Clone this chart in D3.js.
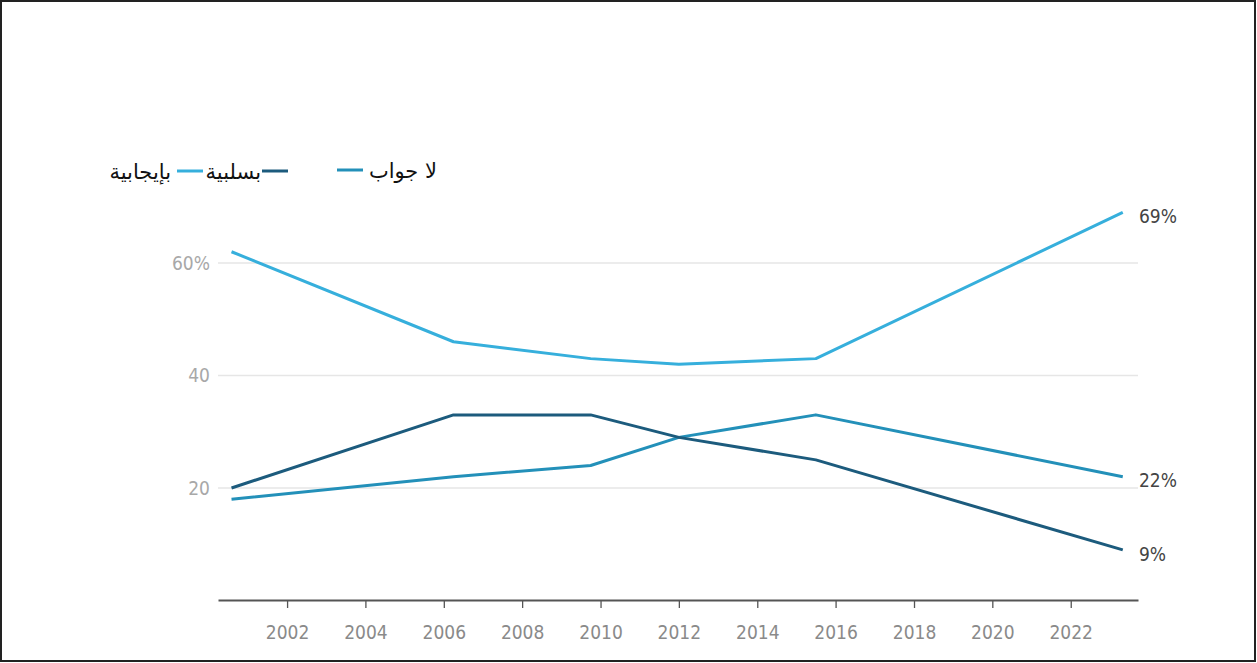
<!DOCTYPE html>
<html>
<head>
<meta charset="utf-8">
<script src="https://cdn.jsdelivr.net/npm/d3@7"></script>
<style>
  body { margin: 0; background: #fff; }
  svg { display: block; }
</style>
</head>
<body>
<div id="chart"></div>
<script>
// survey dates (year-month)
var dates = ["2000-08", "2006-04", "2009-10", "2012-01", "2015-07", "2023-05"];
var positive = [62, 46, 43, 42, 43, 69];   // بإيجابية
var negative = [20, 33, 33, 29, 25, 9];    // بسلبية
var noAnswer = [18, 22, 24, 29, 33, 22];   // لا جواب
var yTicks = [20, 40, 60];
var seriesNames = ["بإيجابية", "بسلبية", "لا جواب"];
var seriesColors = ["#36afdc", "#1c5b7d", "#2390b9"];

var parse = d3.timeParse("%Y-%m");
var W = 1257, H = 663;
var labelFont = "'Liberation Sans Narrow', 'DejaVu Sans Condensed', sans-serif";

var svg = d3.select("#chart")
  .append("svg")
  .attr("width", W)
  .attr("height", H);

// frame
svg.append("rect")
  .attr("x", 1).attr("y", 1)
  .attr("width", W - 3).attr("height", H - 3)
  .style("fill", "none")
  .style("stroke", "#222")
  .style("stroke-width", 2);

var x = d3.scaleTime()
  .domain([new Date(2000, 2, 28), new Date(2023, 8, 20)])
  .range([218, 1138]);

var y = d3.scaleLinear()
  .domain([0, 20])
  .range([600.5, 488]);

// grid
svg.append("g")
  .selectAll("line")
  .data(yTicks)
  .enter().append("line")
  .attr("x1", 218).attr("x2", 1138)
  .attr("y1", function(d) { return y(d); })
  .attr("y2", function(d) { return y(d); })
  .style("stroke", "#e6e6e6")
  .style("stroke-width", 1.5);

svg.append("g")
  .selectAll("text")
  .data(yTicks)
  .enter().append("text")
  .attr("x", 210)
  .attr("y", function(d) { return y(d); })
  .attr("dy", ".35em")
  .style("text-anchor", "end")
  .style("font-family", labelFont)
  .style("font-size", "19px")
  .style("fill", "#a8a8a8")
  .text(function(d, i) { return i == yTicks.length - 1 ? d + "%" : d; });

// x axis
var xAxis = svg.append("g")
  .attr("transform", "translate(0,600)")
  .call(d3.axisBottom(x)
    .ticks(d3.timeYear.every(2))
    .tickFormat(d3.timeFormat("%Y"))
    .tickSize(8)
    .tickSizeOuter(0));
xAxis.select(".domain").style("stroke", "#555").style("stroke-width", 2);
xAxis.selectAll(".tick line").style("stroke", "#555").style("stroke-width", 1.3);
xAxis.selectAll(".tick text")
  .attr("y", 26)
  .style("font-family", labelFont)
  .style("font-size", "19px")
  .style("fill", "#8a8a8a");

var line = d3.line()
  .x(function(d) { return x(d.date); })
  .y(function(d) { return y(d.value); });

var series = [positive, negative, noAnswer].map(function(vals, k) {
  return {
    name: seriesNames[k],
    color: seriesColors[k],
    values: vals.map(function(v, i) { return { date: parse(dates[i]), value: v }; })
  };
});

// draw no-answer first, then negative, then positive on top
[2, 1, 0].forEach(function(k) {
  var s = series[k];
  svg.append("path")
    .datum(s.values)
    .attr("d", line)
    .style("fill", "none")
    .style("stroke", s.color)
    .style("stroke-width", 3)
    .style("stroke-linejoin", "round");
});

// end labels
svg.append("g")
  .selectAll("text")
  .data(series)
  .enter().append("text")
  .attr("x", 1139)
  .attr("y", function(d) { return y(d.values[d.values.length - 1].value) + 4; })
  .attr("dy", ".35em")
  .style("font-family", labelFont)
  .style("font-size", "19px")
  .style("fill", "#444")
  .text(function(d) { return d.values[d.values.length - 1].value + "%"; });

// legend
var legend = [
  { text: seriesNames[0], textRight: 171, lineX: 177, lineY: 171, color: seriesColors[0] },
  { text: seriesNames[1], textRight: 261, lineX: 262, lineY: 171, color: seriesColors[1] },
  { text: seriesNames[2], textRight: 437, lineX: 337, lineY: 170, color: seriesColors[2] }
];
var lg = svg.append("g").selectAll("g").data(legend).enter().append("g");
lg.append("line")
  .attr("x1", function(d) { return d.lineX; })
  .attr("x2", function(d) { return d.lineX + 26; })
  .attr("y1", function(d) { return d.lineY; })
  .attr("y2", function(d) { return d.lineY; })
  .style("stroke", function(d) { return d.color; })
  .style("stroke-width", 3);
lg.append("text")
  .attr("x", function(d) { return d.textRight; })
  .attr("y", function(d) { return d.lineY + 8; })
  .attr("direction", "rtl")
  .style("text-anchor", "start")
  .style("font-family", "'DejaVu Sans', sans-serif")
  .style("font-size", "21px")
  .style("fill", "#111")
  .text(function(d) { return d.text; });
</script>
</body>
</html>
